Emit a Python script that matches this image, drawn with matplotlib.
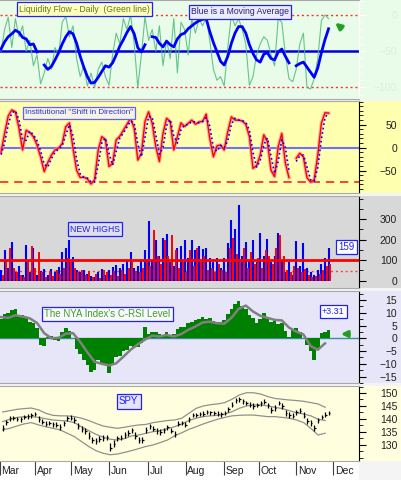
import numpy as np
import matplotlib.pyplot as plt
from matplotlib.patches import Rectangle
from matplotlib.ticker import MultipleLocator
import matplotlib.transforms as mtransforms

plt.rcParams['font.family'] = ['Liberation Sans', 'DejaVu Sans']

# ---- data (one value every 2 trading days, bands every 4) ----
months = ['Mar', 'Apr', 'May', 'Jun', 'Jul', 'Aug', 'Sep', 'Oct', 'Nov', 'Dec']
month_pos = [-1.5, 18.3, 38.3, 59.4, 81.1, 102.2, 123.3, 142.8, 163.9, 184.4]

nan = np.nan
liq_flow = [-50, -20, -3, -45, -5, -30, -15, -50, -35, -70, -55, -95, -80, -60, -75, -45,
            -55, -10, -2, -30, -15, -60, -85, -70, -98, -80, -100, -75, -65, -85, -97, -55,
            -25, -40, -5, -20, 0, -40, -100, -55, -2, -35, -20, -50, -15, -70, -35, -60,
            -5, -80, -10, -20, -55, -5, -25, -5, -15, -3, -35, -75, -90, -85, -98, -45,
            0, -15, -5, -20, -40, -97, -85, -55, -40, -30, -35, -55, -70, -5, -10, -55,
            -88, -92, -75, -40, -25, -100, -102, -88, -60, -8, 0, -5]
liq_ma = [-47, -37, -30, -26, -21, -24, -31, -33, -41, -40, -51, nan, -69, -75, -71, -62,
          -52, -40, -30, -23, -26, -39, -57, -72, -85, -94, -93, -86, -78, -70, -72, -66,
          -55, -43, -34, -24, -16, -26, -45, -51, -41, nan, -30, -31, -39, -44, -36, -41,
          -44, -33, -27, -25, -19, -15, -11, -8, -6, -5, -23, -38, -51, -64, -69, -57,
          -39, -25, -16, -16, -25, -41, -53, -62, -65, -54, -52, -60, -62, -51, -47, -57,
          -66, nan, -70, -67, -65, -72, -79, -86, -73, -52, -34, -19]

shift = [-10, 31, 69, 82, 78, 42, -5, 38, 33, 24, 6, -20, -52, -32, -16, -5,
         -1, 9, 46, 54, -1, -49, -65, -64, -68, -79, -70, -5, 24, 18, -41, -34,
         17, 25, 38, 51, 64, 42, -27, -12, 57, 78, 53, 2, -30, 31, 64, 57,
         -5, 24, 54, 46, 53, 60, 51, 56, 57, 73, 20, -20, 4, 6, -5, 35,
         67, 60, 60, 58, 51, 24, -45, -39, -16, 28, 13, -49, -63, 2, 31, -34,
         -65, nan, -23, -12, -20, -65, -75, -70, -16, 53, 76, 75]
shift_avg = [-15, 10, 50, 76, 80, 60, 18, 16, 36, 28, 15, -7, -36, -42, -24, -10,
             -3, 4, 28, 50, 26, -25, -57, -65, -66, -74, -75, -38, 10, 21, -12, -38,
             -8, 21, 32, 45, 58, 53, 8, -20, 22, 68, 66, 28, -14, 0, 48, 61,
             26, 10, 39, 50, 50, 57, 56, 54, 57, 65, 47, 0, -8, 5, 0, 15,
             51, 64, 60, 59, 55, 38, -10, -42, -28, 6, 21, -18, -56, -30, 17, 0,
             -50, nan, -30, -18, -16, -42, -70, -73, -43, 18, 65, 76]

new_highs = [50, 150, 60, 190, 40, 70, 30, 175, 40, 160, 30, 45, 55, 30, 55, 40,
             65, 140, 160, 200, 115, 50, 40, 50, 35, 25, 20, 40, 55, 30, 50, 65,
             75, 60, 80, 95, 140, 60, 70, 95, 150, 290, 100, 200, 120, 210, 230, 90,
             70, 160, 170, 200, 110, 200, 150, 170, 155, 160, 110, 90, 110, 60, 110, 185,
             295, 250, 370, 120, 190, 100, 200, 90, 235, 120, 205, 90, 120, 235, 100, 40,
             90, 30, 195, 70, 185, 60, 40, 30, 50, 80, 110, 159]
new_lows = [30, 100, 160, 60, 40, 30, 20, 95, 170, 60, 140, 40, 20, 45, 25, 50,
            35, 60, 110, 90, 60, 40, 50, 30, 45, 20, 35, 15, 50, 40, 30, 45,
            25, 50, 35, 60, 90, 45, 40, 60, 100, 70, 245, 120, 80, 200, 120, 225,
            150, 60, 90, 40, 150, 70, 160, 90, 120, 50, 60, 40, 80, 50, 40, 160,
            210, 130, 90, 160, 60, 140, 80, 110, 60, 150, 120, 80, 160, 225, 120, 50,
            40, 70, 60, 40, 55, 30, 20, 25, 35, 50, 70, 80]

crsi = [7.5, 9.5, 10, 11, 11.5, 9, 9, 8, 6.5, 6, 4, -2.5, -3, 0.5, 0.8, -0.6,
        -1.2, 2.5, 4, 3, 0, -4, -6, -8.5, -10.5, -13, -12.5, -8.5, -9.5, -10.5, -13.5, -10.5,
        -7.5, -7, -5, -4.5, -3, -3.5, -3.5, -2, 4.5, 1.5, 2.5, 2.5, 1.5, 1.2, 2.5, 1,
        1.5, 3.5, 4.5, 4.5, 6, 6.5, 7, 7.6, 8.2, 7.5, 7.8, 6.8, 6.5, 6.5, 7, 9.5,
        11.5, 13.5, 14.5, 12.5, 11.5, 9, 8, 6, 7.5, 9.8, 7.5, 6.5, 6.8, 5.5, 5.8, 3,
        0.5, 3.5, 4, 2.5, 0, -2.8, -5, -8.5, -4, 2, 2.5, 3.3]
crsi_ma = [8.3, 8, 9, 8.5, 7.8, 6, 2, 0, 0.2, 1.8, 2, -1.4, -5.5, -9.2, -10, -10.6,
           -9.8, -7.2, -4.5, -2.4, -0.5, 1, 0.7, 1.3, 0.7, 1.6, 3.3, 4.6, 6.2, 6.5, 5.9, 5.7,
           8, 11.5, 12.8, 10.5, 8.8, 8, 7.2, 7, 4.2, 2.6, 1.5, -3, -4.5, -2]

spy_close = [136.5, 138.8, 140.2, 140.4, 140.1, 139.8, 140.8, 141.0, 141.4, 142.0,
             139.9, 139.0, 138.2, 138.5, 138.0, 137.8, 137.0, 138.5, 140.3, 140.5,
             139.5, 137.2, 136.2, 135.5, 133.5, 131.8, 131.4, 132.2, 132.7, 133.0,
             129.0, 130.5, 132.5, 132.8, 133.8, 134.5, 135.7, 133.5, 132.0, 131.9,
             135.8, 137.2, 136.2, 135.4, 135.0, 135.6, 136.8, 135.5, 134.3, 138.2,
             138.5, 137.8, 139.9, 141.5, 141.6, 141.8, 142.1, 142.8, 142.5, 142.3,
             142.1, 141.8, 142.4, 143.8, 145.5, 147.2, 147.6, 146.8, 146.2, 145.5,
             145.0, 145.4, 146.0, 146.6, 145.2, 143.5, 144.2, 146.3, 145.0, 142.2,
             141.5, 141.2, 142.6, 143.2, 141.3, 139.2, 138.5, 136.5, 139.5, 140.8,
             141.6, 142.3]
spy_high = [137.6, 139.5, 141.0, 141.2, 140.9, 140.7, 141.6, 141.9, 142.2, 142.8,
            141.0, 139.9, 139.2, 139.4, 139.0, 138.9, 138.1, 139.4, 141.1, 141.4,
            140.6, 138.4, 137.2, 136.6, 134.8, 133.0, 132.6, 133.3, 133.8, 134.0,
            130.6, 131.7, 133.6, 133.8, 134.8, 135.6, 136.6, 134.8, 133.1, 133.0,
            136.8, 138.1, 137.2, 136.5, 136.0, 136.6, 137.8, 136.6, 135.5, 139.1,
            139.4, 138.8, 140.8, 142.2, 142.4, 142.5, 142.9, 143.5, 143.2, 143.0,
            142.9, 142.7, 143.2, 144.8, 146.5, 148.2, 148.5, 147.8, 147.1, 146.5,
            146.0, 146.3, 146.9, 147.5, 146.3, 144.6, 145.2, 147.1, 146.1, 143.4,
            142.5, 142.2, 143.6, 144.2, 142.5, 140.4, 139.6, 137.8, 140.5, 141.7,
            142.5, 143.1]
spy_low = [135.4, 137.6, 139.2, 139.5, 139.2, 138.8, 139.9, 140.1, 140.5, 141.0,
           138.8, 138.0, 137.2, 137.5, 137.0, 136.8, 135.9, 137.4, 139.3, 139.5,
           138.4, 136.0, 135.1, 134.3, 132.3, 130.6, 130.3, 131.1, 131.6, 131.8,
           127.7, 129.3, 131.4, 131.8, 132.8, 133.4, 134.6, 132.4, 130.9, 130.8,
           134.6, 136.2, 135.2, 134.3, 133.9, 134.6, 135.8, 134.4, 133.1, 137.1,
           137.5, 136.8, 138.9, 140.6, 140.8, 141.0, 141.3, 142.0, 141.7, 141.5,
           141.2, 140.9, 141.5, 142.8, 144.5, 146.2, 146.6, 145.8, 145.3, 144.5,
           144.0, 144.5, 145.1, 145.6, 144.1, 142.4, 143.2, 145.3, 143.9, 141.1,
           140.5, 140.2, 141.6, 142.2, 140.2, 138.0, 137.4, 135.2, 138.4, 139.8,
           140.7, 141.4]
band_up = [142.7, 143.2, 143.7, 144.0, 144.2, 143.5, 142.2, 141.4, 141.2, 141.2, 140.9, 140.3,
           139.4, 138.3, 137.3, 136.8, 136.4, 136.8, 137.3, 137.7, 137.9, 138.6, 139.0, 139.4,
           139.6, 140.3, 142.2, 144.1, 145.0, 145.5, 145.8, 146.3, 147.6, 149.2, 150.1, 150.1,
           149.6, 148.6, 147.9, 147.6, 147.3, 147.1, 146.8, 146.3, 145.8, 144.5]
band_mid = [139.0, 139.9, 140.6, 140.9, 140.9, 140.6, 140.1, 139.6, 139.4, 139.2, 138.6, 137.0,
            135.5, 134.1, 133.0, 132.2, 131.9, 132.4, 133.5, 133.8, 134.5, 135.1, 135.5, 136.3,
            137.0, 138.1, 139.4, 140.3, 140.9, 141.2, 141.4, 141.9, 142.8, 144.1, 145.0, 145.4,
            145.4, 145.0, 144.5, 144.0, 143.2, 142.4, 141.9, 141.2, 139.9, 139.4]
band_lo = [135.8, 136.4, 137.3, 138.1, 138.6, 137.7, 137.0, 136.4, 135.8, 134.5, 133.2, 131.3,
           129.4, 127.8, 126.8, 126.2, 126.5, 127.1, 127.8, 128.6, 129.4, 130.0, 130.9, 131.9,
           133.5, 134.7, 136.0, 137.0, 138.1, 139.0, 139.9, 140.6, 141.2, 141.4, 141.5, 141.5,
           141.2, 140.9, 140.9, 140.6, 140.3, 139.6, 138.6, 136.4, 133.8, 134.5]

d2 = np.arange(0, 2 * len(liq_flow), 2)
d4 = np.arange(0, 4 * len(band_up), 4)

# ---- layout helpers (pixel based) ----
W, H = 401, 480
fig = plt.figure(figsize=(W / 100, H / 100), dpi=100, facecolor='#f4f4f4')
XRIGHT = 359


def panel(top, bot, bg, ylim, major, minor, spine='black', lab='#202020'):
    fig.add_artist(Rectangle((0, 1 - bot / H), 1, (bot - top) / H, transform=fig.transFigure,
                             fc=bg, ec='none', zorder=-1))
    ax = fig.add_axes([0, 1 - bot / H, XRIGHT / W, (bot - top) / H])
    ax.set_facecolor(bg)
    ax.set_xlim(-0.56, 198.9)
    ax.set_ylim(*ylim)
    ax.yaxis.tick_right()
    ax.set_yticks(major)
    ax.yaxis.set_minor_locator(MultipleLocator(minor))
    ax.tick_params(axis='y', which='major', length=5, width=0.8, color=spine, labelcolor=lab,
                   labelsize=7.5, pad=22.5)
    ax.tick_params(axis='y', which='minor', length=3, width=0.6, color=spine)
    for t in ax.get_yticklabels():
        t.set_horizontalalignment('right')
    ax.set_xticks([])
    ax.spines['left'].set_visible(False)
    ax.spines['right'].set_color(spine)
    ax.spines['right'].set_linewidth(0.8)
    for s in ['top', 'bottom']:
        ax.spines[s].set_color('#a8a8a8')
        ax.spines[s].set_linewidth(0.8)
    return ax


def box(x, y, s, tc, fc, ec='#2020ff', fs=6.2):
    fig.text(x / W, 1 - y / H, s, color=tc, fontsize=fs, va='center', ha='left',
             bbox=dict(boxstyle='square,pad=0.25', fc=fc, ec=ec, lw=0.9), zorder=5)


def arrow(x0, y0, x1, y1):
    fig.add_artist(plt.Annotation('', xy=(x1 / W, 1 - y1 / H), xytext=(x0 / W, 1 - y0 / H),
                                  xycoords='figure fraction',
                                  arrowprops=dict(arrowstyle='-|>', color='#20a020', lw=2.2,
                                                  mutation_scale=9)))


# panel 1: liquidity flow
ax1 = panel(0, 99, '#e9fbe9', (-115.9, 20.7), [0, -50, -100], 10, spine='white', lab='#dfeedf')
ax1.axhline(0, color='#ff3030', lw=1, ls=(0, (1.5, 2)))
ax1.axhline(-100, color='#ff3030', lw=1, ls=(0, (1.5, 2)))
ax1.axhline(-50, color='#0000dd', lw=1.8)
ax1.plot(d2, liq_flow, color='#4cbc7a', lw=0.8, alpha=0.85)
ax1.plot(d2, liq_ma, color='#0000ff', lw=2)
box(19, 9, 'Liquidity Flow - Daily  (Green line)', '#607a20', '#ffffc0')
box(191, 12, 'Blue is a Moving Average', '#202080', '#ececff')
arrow(344, 30, 333, 21)

# panel 2: institutional shift in direction
ax2 = panel(101, 193, '#ffffb0', (-98.5, 101.5), [50, 0, -50], 10)
ax2.axhline(0, color='#7070ff', lw=1.5)
ax2.axhline(-75, color='#ff2020', lw=1.2, ls=(0, (5, 3.5)))
ax2.plot(d2, shift, color='#ff9090', lw=2.6, alpha=0.7)
ax2.plot(d2, shift, color='#ff0000', lw=1)
ax2.plot(d2, shift_avg, color='#0000ff', lw=1.2, ls=':')
box(25, 113, 'Institutional "Shift in Direction"', '#3030e0', '#f4f4e0', ec='#6060ff', fs=5.9)

# panel 3: new highs
ax3 = panel(196, 288, '#d8d8d8', (-35.6, 413), [0, 100, 200, 300], 50)
ax3.axhline(47, color='#ff4040', lw=1, ls=(0, (1.5, 2)))
ax3.vlines(d2, 0, new_highs, color='#0000ff', lw=1.5)
ax3.vlines(d2 + 1, 0, new_lows, color='#ff0000', lw=1.4)
ax3.axhline(100, color='#ff0000', lw=2)
box(70, 229, 'NEW HIGHS', '#2020ff', '#e0e0e8')
box(338, 247, '159', '#2020ff', '#ffffff', fs=7)

# panel 4: C-RSI
ax4 = panel(291, 383, '#e6e6f8', (-17.5, 18.5), [-15, -10, -5, 0, 5, 10, 15], 2.5)
ax4.axhline(0, color='#3a8ca0', lw=1, zorder=1)
ax4.bar(d2, crsi, width=2, color='#008000', zorder=2)
ax4.plot(d4, crsi_ma, color='#808080', lw=1.8, zorder=3)
box(44, 314, "The NYA Index's C-RSI Level", '#40a020', '#f8f8ff', fs=7)
box(322, 311.5, '+3.31', '#2020ff', '#ffffff', fs=6.5)
arrow(352, 334, 338, 334)

# panel 5: SPY
ax5 = panel(386, 461, '#ffffe0', (123.8, 152.7), [130, 135, 140, 145, 150], 2.5)
ax5.plot(d4, band_up, color='#909090', lw=0.9)
ax5.plot(d4, band_mid, color='#909090', lw=0.9)
ax5.plot(d4, band_lo, color='#909090', lw=0.9)
ax5.vlines(d2, spy_low, spy_high, color='black', lw=0.9)
ax5.hlines(spy_close, d2, d2 + 0.8, color='black', lw=0.9)
box(119, 401.5, 'SPY', '#2020ff', '#e4e4ff', fs=7)

ax5.set_xticks(month_pos)
ax5.set_xticklabels([])
ax5.tick_params(axis='x', which='major', length=10, width=0.8, color='#404040', direction='out')
trans = mtransforms.blended_transform_factory(ax5.transData, ax5.transAxes)
for m, p in zip(months, month_pos):
    ax5.text(p + 0.9, -0.13, m, transform=trans, fontsize=7.5, color='#202020',
             ha='left', va='center', clip_on=False)

# bottom strip
fig.add_artist(Rectangle((0, 0), XRIGHT / W, 19 / H, transform=fig.transFigure,
                         fc='white', ec='none', zorder=-1))

fig.savefig('out.png', dpi=100, facecolor=fig.get_facecolor())
